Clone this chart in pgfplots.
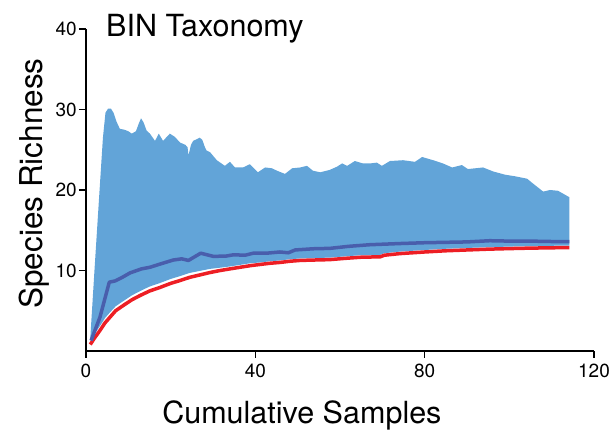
\documentclass[border=0pt]{standalone}
\usepackage{pgfplots}
\pgfplotsset{compat=1.18}
\usepackage{fontspec}
\setmainfont{TeX Gyre Heros}
\definecolor{areablue}{RGB}{98,164,216}
\definecolor{lineblue}{RGB}{73,94,172}
\definecolor{redline}{RGB}{237,30,36}
\begin{document}
\begin{tikzpicture}
\path[use as bounding box] (-86pt,-79pt) rectangle (527pt,351pt);
\begin{axis}[
  at={(0,0)}, anchor=south west,
  scale only axis, width=508pt, height=322pt,
  xmin=0, xmax=120, ymin=0, ymax=40,
  axis lines*=left,
  axis line style={black, line width=1.3pt},
  xtick={0,40,80,120}, ytick={10,20,30,40},
  tick style={black, line width=1.3pt},
  major tick length=7pt,
  tick align=outside,
  /pgf/number format/assume math mode=true,
  ticklabel style={font=\fontsize{19}{23}\selectfont, inner sep=1pt},
  xticklabel style={yshift=-5pt},
  yticklabel style={xshift=-1pt},
  clip=false,
]
\addplot[fill=areablue, draw=none] table {
1 1.5
2 10
3 18.3
4 26.5
4.6 29.6
5.2 30.1
5.9 30.1
6.5 29.6
7.2 28.5
8.0 27.6
9.0 27.5
10.0 27.3
10.8 27.0
11.8 27.3
12.5 28.3
13.0 28.9
13.6 28.4
14.3 27.4
15.1 27.0
16.3 26.1
17.2 27.0
18.2 26.1
19.8 27.0
21.0 26.6
22.2 25.9
23.5 25.6
24.0 25.3
24.2 24.3
24.8 25.6
25.3 26.1
26.9 26.5
27.5 26.2
28.1 25.3
28.5 24.9
29.3 24.7
30.9 23.7
32.8 23.0
34.0 23.5
35.2 22.8
37.1 22.8
38.7 23.2
40.6 22.2
42.3 22.8
43.9 22.7
45.1 22.4
47.0 22.0
48.7 22.7
50.6 22.8
52.2 23.0
53.6 22.4
55.3 22.2
57.6 22.5
59.3 22.9
60.5 23.3
61.7 23.0
63.5 23.6
65.4 23.3
67.1 23.3
68.7 23.4
69.9 23.0
71.8 23.6
74.9 23.7
77.7 23.5
79.4 24.1
82.0 23.7
84.3 23.3
86.5 22.8
88.8 23.1
90.2 22.6
93.8 22.8
96.2 22.3
99.0 21.9
101.4 21.7
104.2 21.4
105.6 20.8
108.0 19.8
109.6 20.0
111.5 19.9
114.2 19.1
114.2 13.1
110 13.07
105 13.03
100 12.97
95 12.9
90 12.8
85 12.7
80 12.55
74.2 12.35
70.5 12.15
69.5 11.95
65 11.9
61 11.75
57.6 11.6
53.8 11.55
50.6 11.5
48.2 11.4
45.8 11.25
43.5 11.15
41.1 11.0
38.8 10.9
36.4 10.7
34 10.5
31.7 10.35
29.3 10.2
26.9 9.95
24.5 9.7
22.2 9.3
20 8.95
17.5 8.45
15 8.0
12.8 7.45
10.8 6.9
8.8 6.2
7 5.55
5.67 4.8
4.5 4.1
3.3 3.1
2 2.1
1 1.3
} -- cycle;
\addplot[redline, line width=3.5pt] table {
1 0.8
2 1.6
3.3 2.55
4.5 3.5
5.67 4.2
7 5.0
8.8 5.65
10.8 6.35
12.8 6.9
15 7.45
17.5 7.9
20 8.4
22.2 8.75
24.5 9.15
26.9 9.45
29.3 9.75
31.7 10.0
34 10.2
36.4 10.4
38.8 10.6
41.1 10.75
43.5 10.9
45.8 11.0
48.2 11.15
50.6 11.25
53.8 11.3
57.6 11.35
61 11.5
65 11.65
69.5 11.7
70.5 11.9
74.2 12.1
80 12.3
85 12.45
90 12.55
95 12.65
100 12.72
105 12.78
110 12.82
114.2 12.85
};
\addplot[lineblue, line width=3.5pt, line join=round] table {
1.2 1.3
3.3 4.2
5.5 8.55
6.85 8.7
8.4 9.1
10.4 9.7
13.1 10.2
15.1 10.4
17.5 10.8
20.6 11.3
22.6 11.45
24.2 11.25
27.1 12.15
30.1 11.75
33.2 11.8
34.8 11.95
37.6 11.9
39.5 12.15
42.7 12.15
45.8 12.3
47.8 12.2
49.4 12.55
53.7 12.7
57.6 12.75
62 13.0
67 13.2
74.2 13.35
80 13.45
85 13.5
90 13.55
95.4 13.7
100 13.65
105 13.65
110 13.6
114.2 13.6
};
\node[anchor=base west, inner sep=0pt, font=\fontsize{30.5}{36}\selectfont] at (rel axis cs:0.0394,0.978) {BIN Taxonomy};
\node[anchor=base, inner sep=0pt, font=\fontsize{30.5}{36}\selectfont] at (rel axis cs:0.425,-0.2267) {Cumulative Samples};
\node[anchor=base, rotate=90, inner sep=0pt, font=\fontsize{31.5}{36}\selectfont] at (rel axis cs:-0.0866,0.52) {Species Richness};
\end{axis}
\end{tikzpicture}
\end{document}
